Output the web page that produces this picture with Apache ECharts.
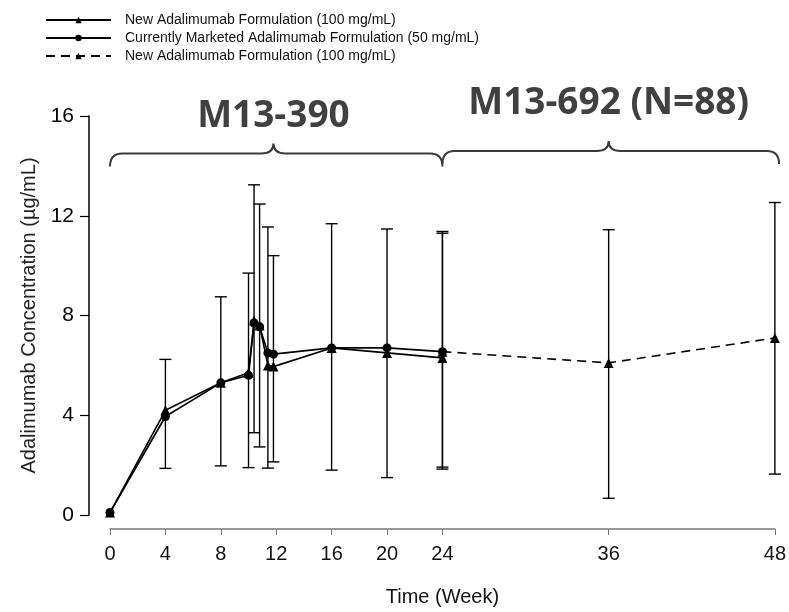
<!DOCTYPE html>
<html>
<head>
<meta charset="utf-8">
<script src="https://cdn.jsdelivr.net/npm/echarts@6/dist/echarts.min.js"></script>
<style>
html,body{margin:0;padding:0;background:#fff;}
#chart{width:789px;height:612px;}
</style>
</head>
<body>
<div id="chart"></div>
<script>
// ---- Data ----
const seriesNames = [
  'New Adalimumab Formulation (100 mg/mL)',
  'Currently Marketed Adalimumab Formulation (50 mg/mL)',
  'New Adalimumab Formulation (100 mg/mL) '
];
const weeksNew = [0, 4, 8, 10, 10.4, 10.8, 11.4, 11.8, 16, 20, 24];
const valuesNew = [0.1, 4.2, 5.3, 5.7, 7.8, 7.6, 6.0, 5.95, 6.7, 6.5, 6.3];
const weeksMarketed = [0, 4, 8, 10, 10.4, 10.8, 11.4, 11.8, 16, 20, 24];
const valuesMarketed = [0.1, 3.95, 5.3, 5.6, 7.7, 7.55, 6.5, 6.45, 6.7, 6.7, 6.55];
const weeksExt = [24, 36, 48];
const valuesExt = [6.55, 6.1, 7.1];

const errWeeks = [4, 8, 10, 10.4, 10.8, 11.4, 11.8, 16, 20, 24, 24, 36, 48];
const errLow   = [1.87, 1.97, 1.9, 3.3, 2.73, 1.88, 2.13, 1.8, 1.5, 1.84, 1.92, 0.67, 1.64];
const errHigh  = [6.24, 8.75, 9.7, 13.24, 12.47, 11.55, 10.4, 11.68, 11.47, 11.3, 11.37, 11.44, 12.53];

const xTickValues = [0, 4, 8, 12, 16, 20, 24, 36, 48];

const braceStart = [0, 24];
const braceEnd = [24, 48.3];
const braceTip = [11.8, 36];
const braceLevel = [14.5, 14.6];
const studyLabels = ['M13-390', 'M13-692 (N=88)'];
const studyLabelX = [11.8, 36];
const studyLabelY = [16.0, 16.5];

// ---- Build ----
const pairs = (xs, ys) => xs.map((x, i) => [x, ys[i]]);
const errData = errWeeks.map((w, i) => [w, errLow[i], errHigh[i]]);
const braceData = braceStart.map((s, i) => [s, braceEnd[i], braceTip[i], braceLevel[i]]);
const labelData = studyLabels.map((t, i) => [studyLabelX[i], studyLabelY[i], t]);

const chart = echarts.init(document.getElementById('chart'));
const font = 'Liberation Sans, Arial, sans-serif';

chart.setOption({
  animation: false,
  backgroundColor: '#fff',
  legend: {
    orient: 'vertical',
    left: 45,
    top: 13,
    padding: 0,
    itemWidth: 65,
    itemHeight: 8,
    itemGap: 4,
    textStyle: { fontFamily: font, fontSize: 14, color: '#111', padding: [0, 0, 0, 9] },
    data: seriesNames
  },
  grid: { left: 110, right: 9, top: 116, bottom: 96, containLabel: false },
  xAxis: {
    type: 'value',
    min: 0, max: 48, interval: 4,
    offset: 14,
    name: 'Time (Week)',
    nameLocation: 'middle',
    nameGap: 58,
    nameTextStyle: { fontFamily: font, fontSize: 20, color: '#111' },
    axisLine: { show: true, onZero: false, lineStyle: { color: '#777', width: 1.5 } },
    axisTick: { show: true, length: 6, lineStyle: { color: '#777' }, customValues: xTickValues },
    axisLabel: { fontFamily: font, fontSize: 20, color: '#111', margin: 15, customValues: xTickValues },
    splitLine: { show: false }
  },
  yAxis: {
    type: 'value',
    min: 0, max: 16, interval: 4,
    offset: 21,
    name: 'Adalimumab Concentration (µg/mL)',
    nameLocation: 'middle',
    nameGap: 50,
    nameTextStyle: { fontFamily: font, fontSize: 20, color: '#222' },
    axisLine: { show: true, onZero: false, lineStyle: { color: '#000', width: 1.5 } },
    axisTick: { show: true, length: 9, lineStyle: { color: '#000', width: 1.2 } },
    axisLabel: { fontFamily: font, fontSize: 21, color: '#000', margin: 15 },
    splitLine: { show: false }
  },
  series: [
    {
      name: 'errors',
      type: 'custom',
      data: errData,
      silent: true,
      z: 1,
      renderItem: function (params, api) {
        const x = api.value(0);
        const lo = api.coord([x, api.value(1)]);
        const hi = api.coord([x, api.value(2)]);
        const hw = 6;
        const style = { stroke: '#000', lineWidth: 1.4 };
        return {
          type: 'group',
          children: [
            { type: 'line', shape: { x1: lo[0], y1: lo[1], x2: hi[0], y2: hi[1] }, style },
            { type: 'line', shape: { x1: lo[0] - hw, y1: lo[1], x2: lo[0] + hw, y2: lo[1] }, style },
            { type: 'line', shape: { x1: hi[0] - hw, y1: hi[1], x2: hi[0] + hw, y2: hi[1] }, style }
          ]
        };
      }
    },
    {
      name: seriesNames[0],
      type: 'line',
      data: pairs(weeksNew, valuesNew),
      symbol: 'triangle',
      symbolSize: 10,
      itemStyle: { color: '#000' },
      lineStyle: { color: '#000', width: 1.6 },
      z: 3
    },
    {
      name: seriesNames[1],
      type: 'line',
      data: pairs(weeksMarketed, valuesMarketed),
      symbol: 'circle',
      symbolSize: 9,
      itemStyle: { color: '#000' },
      lineStyle: { color: '#000', width: 1.6 },
      z: 3
    },
    {
      name: seriesNames[2],
      type: 'line',
      data: pairs(weeksExt, valuesExt),
      symbol: 'triangle',
      symbolSize: 10,
      itemStyle: { color: '#000' },
      lineStyle: { color: '#000', width: 1.6, type: [9, 6] },
      z: 3
    },
    {
      name: 'braces',
      type: 'custom',
      data: braceData,
      silent: true,
      clip: false,
      renderItem: function (params, api) {
        const p0 = api.coord([api.value(0), api.value(3)]);
        const p1 = api.coord([api.value(1), api.value(3)]);
        const pt = api.coord([api.value(2), api.value(3)]);
        const y = p0[1];
        const x0 = p0[0], x1 = p1[0], xt = pt[0];
        const d = 13, r = 12, t = 10;
        const path = 'M' + x0 + ' ' + (y + d) +
          ' Q' + x0 + ' ' + y + ' ' + (x0 + r) + ' ' + y +
          ' L' + (xt - r) + ' ' + y +
          ' Q' + xt + ' ' + y + ' ' + xt + ' ' + (y - t) +
          ' Q' + xt + ' ' + y + ' ' + (xt + r) + ' ' + y +
          ' L' + (x1 - r) + ' ' + y +
          ' Q' + x1 + ' ' + y + ' ' + x1 + ' ' + (y + d);
        return {
          type: 'path',
          shape: { pathData: path },
          style: { fill: 'none', stroke: '#3a3a3a', lineWidth: 2 }
        };
      }
    },
    {
      name: 'studies',
      type: 'custom',
      data: labelData,
      silent: true,
      clip: false,
      renderItem: function (params, api) {
        const p = api.coord([api.value(0), api.value(1)]);
        return {
          type: 'text',
          x: p[0], y: p[1],
          style: {
            text: labelData[params.dataIndex][2],
            fill: '#404040',
            font: 'bold 37px "Open Sans", sans-serif',
            textAlign: 'center',
            textVerticalAlign: 'middle'
          }
        };
      }
    }
  ]
});
</script>
</body>
</html>
